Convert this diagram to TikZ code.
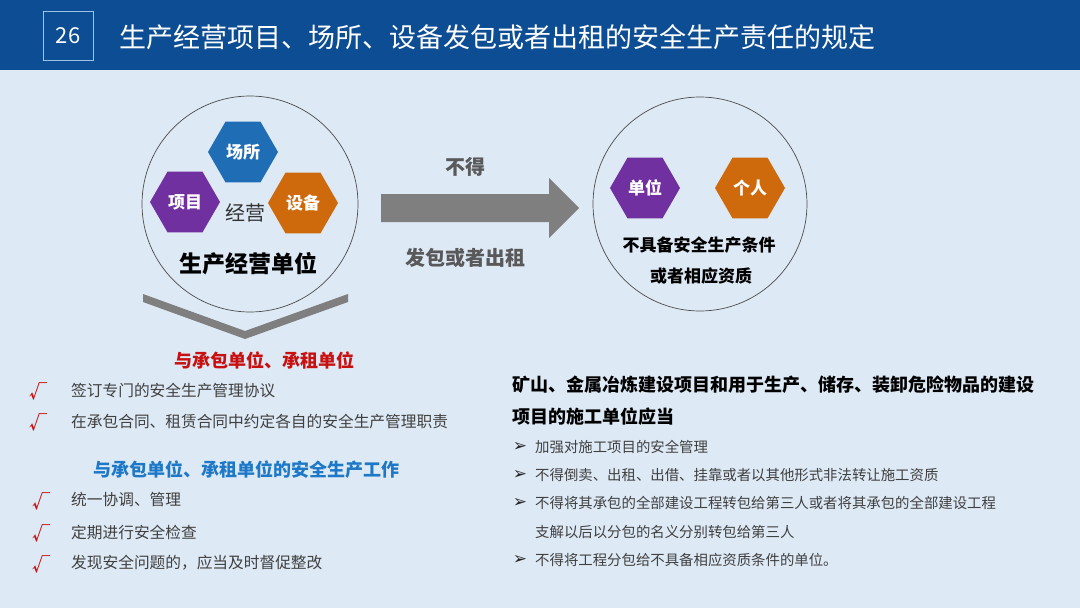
\documentclass[tikz,border=0pt]{standalone}
\usepackage{fontspec}
\setmainfont{Noto Sans CJK SC}
\newfontfamily\dv{DejaVu Sans}
\usetikzlibrary{shapes.geometric}
\definecolor{bgc}{HTML}{DDE9F5}
\definecolor{hdr}{HTML}{0D4D94}
\definecolor{boxl}{HTML}{9DC3E6}
\definecolor{hblue}{HTML}{1F6EB5}
\definecolor{hpurple}{HTML}{7030A0}
\definecolor{horange}{HTML}{CF6A0C}
\definecolor{agray}{HTML}{7F7F7F}
\definecolor{tgray}{HTML}{404040}
\definecolor{lgray}{HTML}{595959}
\definecolor{tred}{HTML}{C81010}
\definecolor{tblue}{HTML}{1E78C8}
\newcommand{\fs}[1]{\fontsize{#1}{#1}\selectfont}
\begin{document}
\begin{tikzpicture}[x=1pt,y=-1pt,
  hexa/.style={regular polygon,regular polygon sides=6,minimum size=70pt,inner sep=0pt,draw=none,text=white,font=\fs{17}\bfseries},
  ring/.style={draw=black!70,line width=0.7pt},
  chk/.style={text=tred,font=\fs{18}\bfseries,inner sep=0pt},
  ltxt/.style={anchor=west,text=tgray,font=\fs{15.7},inner sep=0pt},
  rtxt/.style={anchor=west,text=tgray,font=\fs{14.4},inner sep=0pt},
  bul/.style={text=black!85,font=\dv\fs{17},inner sep=0pt},
  head/.style={anchor=west,text=black,font=\fs{18}\bfseries,inner sep=0pt}]
\useasboundingbox (0,0) rectangle (1080,608);
\fill[bgc] (0,0) rectangle (1080,608);
\fill[hdr] (0,0) rectangle (1080,70);
\draw[boxl,line width=0.8pt] (43,11) rectangle (93,60);
\node[text=white,font=\fs{22}] (num) at (68,36) {26};
\node[anchor=west,text=white,font=\fs{27},inner sep=0pt] (title) at (119,37) {生产经营项目、场所、设备发包或者出租的安全生产责任的规定};
% left circle
\node[ring,circle,minimum size=216pt,inner sep=0pt] (lc) at (250,204) {};
\node[hexa,fill=hblue] (h1) at (243,152) {场所};
\node[hexa,fill=hpurple] (h2) at (185,202) {项目};
\node[hexa,fill=horange] (h3) at (303,203) {设备};
\node[font=\fs{20},text=black!80] (jy) at (245,213) {经营};
\node[font=\fs{23}\bfseries,text=black] (dw) at (248,264) {生产经营单位};
% chevron
\fill[agray] (143,294) -- (245,331) -- (348,294) -- (348,302) -- (245,339) -- (143,302) -- cycle;
% arrow
\fill[agray] (381,194) -- (549,194) -- (549,178) -- (579,208) -- (549,238) -- (549,222) -- (381,222) -- cycle;
\node[font=\fs{20}\bfseries,text=lgray] (bd) at (465,167) {不得};
\node[font=\fs{20}\bfseries,text=lgray] (fb) at (465,258) {发包或者出租};
% right circle
\node[ring,circle,minimum size=214pt,inner sep=0pt] (rc) at (700,204) {};
\node[hexa,fill=hpurple] (h4) at (645,188) {单位};
\node[hexa,fill=horange] (h5) at (750,188) {个人};
\node[font=\fs{17}\bfseries,text=black] (r1) at (699,245) {不具备安全生产条件};
\node[font=\fs{17}\bfseries,text=black] (r2) at (701,276) {或者相应资质};
% bottom left
\node[font=\fs{18}\bfseries,text=tred] (lh1) at (264,360) {与承包单位、承租单位};
\node[chk] (c1) at (39,391) {√};
\node[ltxt] (t1) at (71,390) {签订专门的安全生产管理协议};
\node[chk] (c2) at (39,422) {√};
\node[ltxt] (t2) at (71,421) {在承包合同、租赁合同中约定各自的安全生产管理职责};
\node[font=\fs{18}\bfseries,text=tblue] (lh2) at (246,470) {与承包单位、承租单位的安全生产工作};
\node[chk] (c3) at (41,501) {√};
\node[ltxt] (t3) at (71,500) {统一协调、管理};
\node[chk] (c4) at (41,533) {√};
\node[ltxt] (t4) at (71,532) {定期进行安全检查};
\node[chk] (c5) at (41,564) {√};
\node[ltxt] (t5) at (71,563) {发现安全问题的，应当及时督促整改};
% right text
\node[head] (rh1) at (512,385) {矿山、金属冶炼建设项目和用于生产、储存、装卸危险物品的建设};
\node[head] (rh2) at (512,417) {项目的施工单位应当};
\node[bul] (b1) at (520,447) {➢};
\node[rtxt] (s1) at (535,447) {加强对施工项目的安全管理};
\node[bul] (b2) at (520,475) {➢};
\node[rtxt] (s2) at (535,475) {不得倒卖、出租、出借、挂靠或者以其他形式非法转让施工资质};
\node[bul] (b3) at (520,503) {➢};
\node[rtxt] (s3) at (535,503) {不得将其承包的全部建设工程转包给第三人或者将其承包的全部建设工程};
\node[rtxt] (s3b) at (535,532) {支解以后以分包的名义分别转包给第三人};
\node[bul] (b4) at (520,560) {➢};
\node[rtxt] (s4) at (535,560) {不得将工程分包给不具备相应资质条件的单位。};
\end{tikzpicture}
\end{document}
